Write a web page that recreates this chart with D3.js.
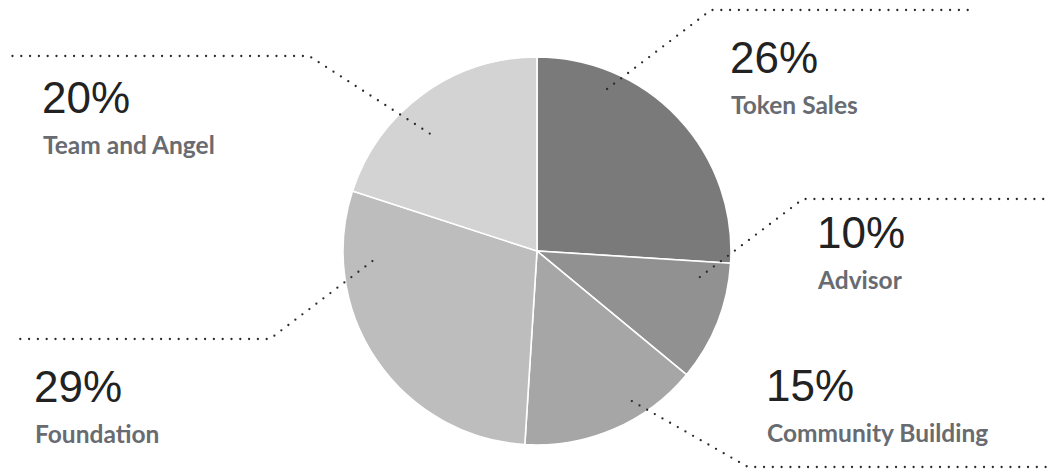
<!DOCTYPE html>
<html>
<head>
<meta charset="utf-8">
<script src="https://cdn.jsdelivr.net/npm/d3@7"></script>
<style>
    html, body { margin: 0; padding: 0; background: #fff; }
    svg { display: block; }
</style>
</head>
<body>
<div id="chart"></div>
<script>
// data
const categories = ["Token Sales", "Advisor", "Community Building", "Foundation", "Team and Angel"];
const shares = [26, 10, 15, 29, 20];
const sliceColors = ["#7a7a7a", "#919191", "#a6a6a6", "#bdbdbd", "#d3d3d3"];

// label / leader layout (annotation placement, not data)
// anchor: angle in degrees (clockwise from top) + fraction of radius
const anchorDeg = [23.4, 99.1, 147.7, 266.5, 317.6];
const anchorR = [0.91, 0.85, 0.915, 0.85, 0.82];
const elbows = [[711, 10], [803, 199], [748, 467], [270, 339], [309, 56]];
const lineEnds = [968, 1051, 1051, 12, 9];
const labelPos = [[731, 73], [818, 248], [767, 401], [35, 402], [43, 113]];

const width = 1051, height = 470;
const cx = 537, cy = 251, radius = 194;

const svg = d3.select("#chart").append("svg")
    .attr("width", width)
    .attr("height", height);

const pie = d3.pie().sort(null).value(d => d)
const arc = d3.arc().innerRadius(0).outerRadius(radius);

const arcs = pie(shares);

const g = svg.append("g").attr("transform", `translate(${cx},${cy})`);

g.selectAll("path.slice")
    .data(arcs)
    .enter()
    .append("path")
    .attr("class", "slice")
    .attr("d", arc)
    .attr("fill", (d, i) => sliceColors[i])
    .attr("stroke", "#fff")
    .attr("stroke-width", 1.6);

// leader lines
const line = d3.line();
const leaders = categories.map((c, i) => {
    const a = anchorDeg[i] * Math.PI / 180;
    const r = radius * anchorR[i];
    const p0 = [cx + r * Math.sin(a), cy - r * Math.cos(a)];
    const e = elbows[i];
    return [p0, e, [lineEnds[i], e[1]]];
});

svg.selectAll("path.leader")
    .data(leaders)
    .enter()
    .append("path")
    .attr("class", "leader")
    .attr("d", line)
    .attr("fill", "none")
    .attr("stroke", "#2a2a2a")
    .attr("stroke-width", 2.3)
    .attr("stroke-linecap", "round")
    .attr("stroke-dasharray", "0 8.8");

// labels
const labels = svg.selectAll("g.label")
    .data(categories)
    .enter()
    .append("g")
    .attr("class", "label")
    .attr("transform", (d, i) => `translate(${labelPos[i][0]},${labelPos[i][1]})`);

labels.append("text")
    .attr("x", -1)
    .attr("font-family", "Liberation Sans, Arial, sans-serif")
    .attr("font-size", 44)
    .attr("fill", "#222")
    .text((d, i) => shares[i] + "%");

labels.append("text")
    .attr("y", 41)
    .attr("font-family", "Lato, sans-serif")
    .attr("font-weight", 700)
    .attr("font-size", 24.5)
    .attr("fill", "#686b70")
    .text(d => d);
</script>
</body>
</html>
